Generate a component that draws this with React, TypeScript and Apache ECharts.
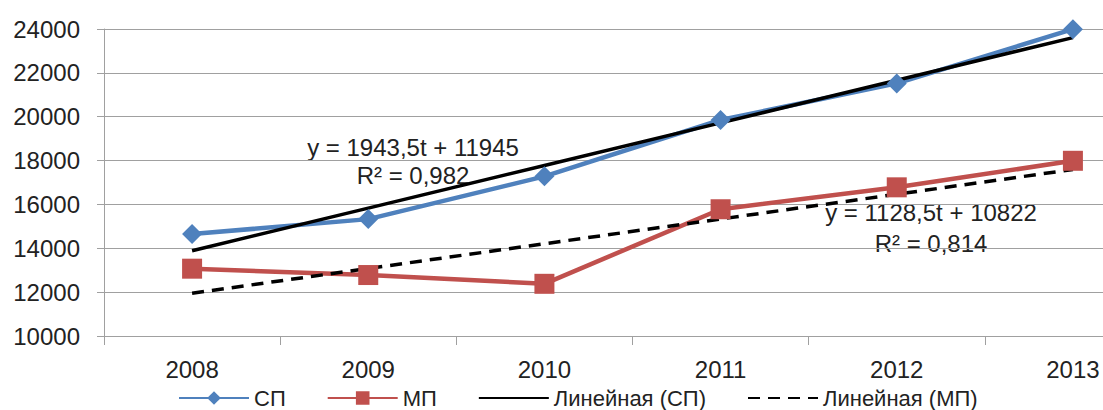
import React, { useEffect, useRef } from "react";
import * as echarts from "echarts";

const years = ["2008", "2009", "2010", "2011", "2012", "2013"];
const spValues = [14650, 15330, 17280, 19850, 21520, 23990];
const mpValues = [13070, 12780, 12380, 15780, 16780, 17990];
const spTrend = [13888.5, 15832, 17775.5, 19719, 21662.5, 23606];
const mpTrend = [11950.5, 13079, 14207.5, 15336, 16464.5, 17593];
const seriesNames = ["СП", "МП", "Линейная (СП)", "Линейная (МП)"];
const spEquation = ["y = 1943,5t + 11945", "R² = 0,982"];
const mpEquation = ["y = 1128,5t + 10822", "R² = 0,814"];

const FONT = '"Liberation Sans", Arial, sans-serif';
const TXT = "#222222";
const GRID = "#a0a0a0";
const FS = 24;

export default function App() {
  const ref = useRef<HTMLDivElement>(null);
  useEffect(() => {
    if (!ref.current) return;
    const chart = echarts.init(ref.current, null, { renderer: "svg" });
    const hidden = { color: "rgba(0,0,0,0)", borderWidth: 0 };
    chart.setOption({
      animation: false,
      backgroundColor: "#ffffff",
      textStyle: { fontFamily: FONT, color: TXT },
      grid: { left: 104, top: 29, width: 1057, height: 307, containLabel: false },
      xAxis: {
        type: "category",
        data: years,
        boundaryGap: true,
        axisLine: { show: true, lineStyle: { color: GRID, width: 1 } },
        axisTick: { show: true, length: 9, inside: false, alignWithLabel: false, lineStyle: { color: GRID, width: 1 } },
        axisLabel: { fontSize: FS, color: TXT, margin: 21, fontFamily: FONT },
        splitLine: { show: false },
      },
      yAxis: {
        type: "value",
        min: 10000,
        max: 24000,
        interval: 2000,
        axisLine: { show: true, lineStyle: { color: GRID, width: 1 } },
        axisTick: { show: true, length: 7, inside: false, lineStyle: { color: GRID, width: 1 } },
        axisLabel: { fontSize: FS, color: TXT, margin: 24, fontFamily: FONT, formatter: (v: number) => String(v) },
        splitLine: { show: true, lineStyle: { color: GRID, width: 1 } },
      },
      legend: {
        left: 178,
        top: 387,
        padding: 0,
        itemWidth: 70,
        itemHeight: 17,
        itemGap: 41,
        textStyle: { fontSize: 22, color: TXT, fontFamily: FONT, lineHeight: 22 },
        data: [
          { name: seriesNames[0] },
          { name: seriesNames[1] },
          { name: seriesNames[2], itemStyle: hidden },
          { name: seriesNames[3], itemStyle: hidden },
        ],
      },
      series: [
        {
          name: seriesNames[0],
          type: "line",
          data: spValues,
          symbol: "diamond",
          symbolSize: 20,
          itemStyle: { color: "#4F81BD" },
          lineStyle: { color: "#4F81BD", width: 4.5 },
        },
        {
          name: seriesNames[1],
          type: "line",
          data: mpValues,
          symbol: "rect",
          symbolSize: 20,
          itemStyle: { color: "#C0504D" },
          lineStyle: { color: "#C0504D", width: 4.5 },
        },
        {
          name: seriesNames[2],
          type: "line",
          data: spTrend,
          symbol: "none",
          itemStyle: { color: "#000000" },
          lineStyle: { color: "#000000", width: 3.5 },
        },
        {
          name: seriesNames[3],
          type: "line",
          data: mpTrend,
          symbol: "none",
          itemStyle: { color: "#000000" },
          lineStyle: { color: "#000000", width: 3.5, type: [12, 8] },
        },
      ],
      graphic: [
        { type: "text", x: 413, y: 147, style: { text: spEquation[0], align: "center", verticalAlign: "middle", fill: TXT, font: `${FS}px ${FONT}` } },
        { type: "text", x: 413, y: 175, style: { text: spEquation[1], align: "center", verticalAlign: "middle", fill: TXT, font: `${FS}px ${FONT}` } },
        { type: "text", x: 931, y: 212, style: { text: mpEquation[0], align: "center", verticalAlign: "middle", fill: TXT, font: `${FS}px ${FONT}` } },
        { type: "text", x: 931, y: 243, style: { text: mpEquation[1], align: "center", verticalAlign: "middle", fill: TXT, font: `${FS}px ${FONT}` } },
      ],
    });
    return () => chart.dispose();
  }, []);
  return (
    <div style={{ position: "absolute", left: 0, top: 0, width: 1103, height: 410, overflow: "hidden" }}>
      <div ref={ref} style={{ width: 1170, height: 410 }} />
    </div>
  );
}
